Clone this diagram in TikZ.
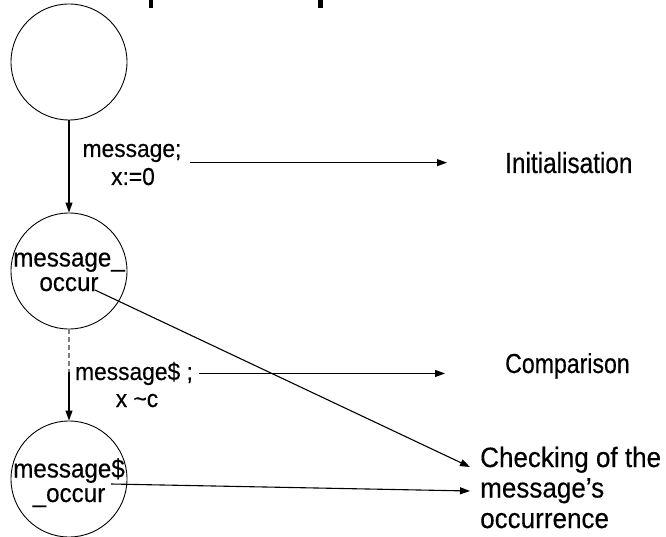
\documentclass[tikz,border=0pt]{standalone}
\usepackage{fontspec}
\setmainfont{Liberation Sans}[FakeStretch=0.93,FakeBold=0.35]
\newfontfamily\narrowsans{Liberation Sans}[FakeStretch=0.84,FakeBold=0.35]
\usetikzlibrary{arrows.meta,calc}
\begin{document}
\begin{tikzpicture}[x=1pt,y=-1pt,
  state/.style={draw, circle, minimum size=116pt, inner sep=0pt, line width=0.9pt},
  statetxt/.style={inner sep=0pt, anchor=base, align=center, font=\fontsize{26}{24.5}\selectfont},
  edgelbl/.style={inner sep=0pt, anchor=base, font=\fontsize{24.5}{28}\selectfont},
  note/.style={inner sep=0pt, anchor=base west},
  arr/.style={line width=1.1pt, -{Triangle[length=10pt,width=7pt]}},
  hint/.style={line width=1.1pt, gray, dash pattern=on 5pt off 3pt}
]
\useasboundingbox (0,0) rectangle (666,537);

% remains of the heading above
\fill (149,0) rectangle (153,8);
\fill (318,0) rectangle (323,8);

% states
\node[state] (s0) at (69,62) {};
\node[state] (s1) at (69,271) {};
\node[state] (s2) at (69,479) {};
\node[statetxt] (s1t) at (69,291) {message\_\\occur};
\node[statetxt] (s2t) at (69,502) {message\$\\\_occur};

% transition labels
\node[edgelbl] (l1a) at (132,157) {message;};
\node[edgelbl] (l1b) at (133,185) {x:=0};
\node[edgelbl] (l2a) at (134,380) {message\$ ;};
\node[edgelbl] (l2b) at (137,407) {x \textasciitilde c};

% explanations
\node[note, font=\narrowsans\fontsize{29}{30}\selectfont] (init) at (505,173) {Initialisation};
\node[note, font=\narrowsans\fontsize{27.5}{30}\selectfont] (comp) at (505,373) {Comparison};
\node[note, align=left, font=\fontsize{28}{30.5}\selectfont] (chk) at (480,528)
  {Checking of the\\message’s\\occurrence};

% transitions
\draw[arr] (s0) -- (s1);
\coordinate (brk) at (69,372);
\draw[hint] (s1) -- (brk);
\draw[arr] (brk) -- (s2);

% pointers to the explanations
\draw[arr] ($(l1a.east |- init.west)+(8,0)$) -- ($(init.west)+(-58,0)$);
\draw[arr] ($(l2a.east)+(6,0)$) -- ($(l2a.east -| comp.west)+(-60,0)$);
\coordinate (o1) at (95,290);
\coordinate (o2) at (111,484);
\coordinate (t1) at (470,467);
\coordinate (t2) at (470,491);
\draw[arr] (o1) -- (t1);
\draw[arr] (o2) -- (t2);
\end{tikzpicture}
\end{document}
